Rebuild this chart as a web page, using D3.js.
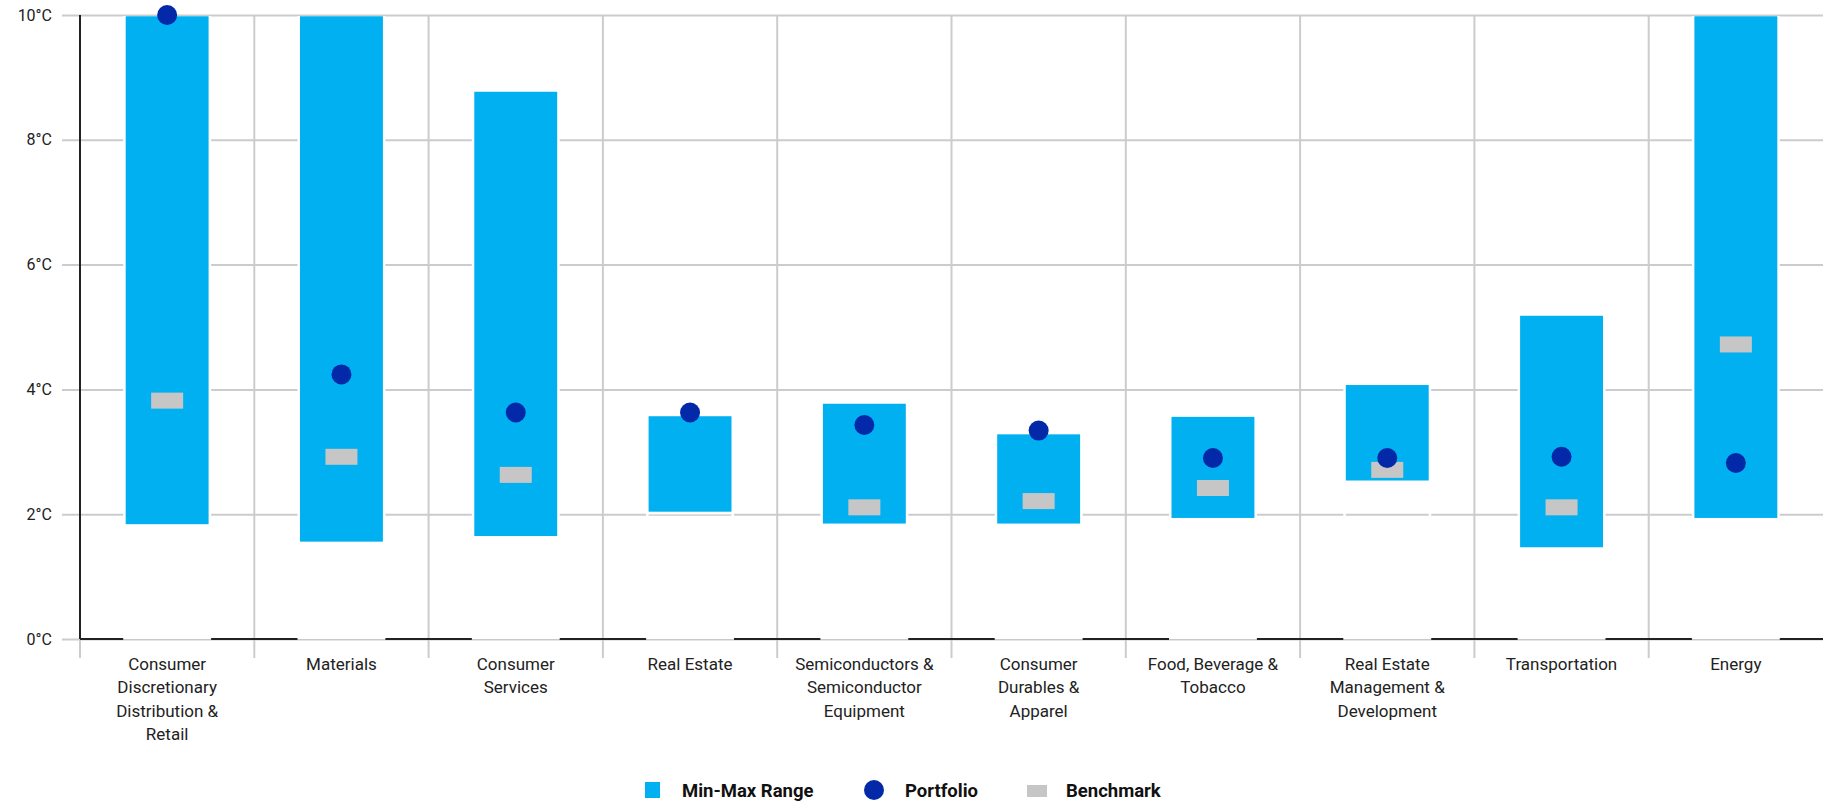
<!DOCTYPE html>
<html>
<head>
<meta charset="utf-8">
<script src="https://cdn.jsdelivr.net/npm/d3@7"></script>
<style>
  body { margin: 0; background: #fff; }
  text { font-family: Roboto, "Noto Sans", sans-serif; }
</style>
</head>
<body>
<script>
// chart data
var categories = [
  "Consumer Discretionary Distribution & Retail",
  "Materials",
  "Consumer Services",
  "Real Estate",
  "Semiconductors & Semiconductor Equipment",
  "Consumer Durables & Apparel",
  "Food, Beverage & Tobacco",
  "Real Estate Management & Development",
  "Transportation",
  "Energy"
];
var tickLabels = [
  ["Consumer", "Discretionary", "Distribution &", "Retail"],
  ["Materials"],
  ["Consumer", "Services"],
  ["Real Estate"],
  ["Semiconductors &", "Semiconductor", "Equipment"],
  ["Consumer", "Durables &", "Apparel"],
  ["Food, Beverage &", "Tobacco"],
  ["Real Estate", "Management &", "Development"],
  ["Transportation"],
  ["Energy"]
];
var rangeMin  = [1.82, 1.54, 1.63, 2.02, 1.83, 1.83, 1.92, 2.52, 1.45, 1.92];
var rangeMax  = [10, 10, 8.79, 3.59, 3.79, 3.30, 3.58, 4.09, 5.20, 10];
var portfolio = [10.0, 4.24, 3.63, 3.63, 3.43, 3.34, 2.90, 2.90, 2.92, 2.82];
var benchmark = [3.82, 2.92, 2.63, null, 2.11, 2.21, 2.42, 2.71, 2.11, 4.72];
var yTicks = [0, 2, 4, 6, 8, 10];

var W = 1823, H = 802;
var margin = {left: 80, right: 1823, top: 15, bottom: 639};

var svg = d3.select("body").append("svg")
  .attr("width", W)
  .attr("height", H);

var x = d3.scaleBand()
  .domain(categories)
  .range([margin.left, margin.right])
  .padding(0);
var y = d3.scaleLinear()
  .domain([0, 10])
  .range([margin.bottom, margin.top]);

var barW = x.bandwidth() * 0.49;

// horizontal grid + y labels
var yAxis = svg.append("g")
  .attr("transform", "translate(" + (margin.left - 18) + ",0)")
  .call(d3.axisLeft(y).tickValues(yTicks).tickSize(-(margin.right - margin.left + 18))
    .tickFormat(function(d) { return d + "°C"; }));
yAxis.select(".domain").remove();
yAxis.selectAll(".tick line").attr("stroke", "#cccccc").attr("stroke-width", 2);
yAxis.selectAll(".tick text")
  .attr("x", -10)
  .attr("fill", "#222")
  .style("font-size", "16px");

// vertical grid lines at band edges
svg.append("g").selectAll("line")
  .data(categories).enter()
  .append("line")
  .attr("x1", function(d) { return x(d); })
  .attr("x2", function(d) { return x(d); })
  .attr("y1", margin.top)
  .attr("y2", margin.bottom + 19)
  .attr("stroke", "#cccccc")
  .attr("stroke-width", 2);

// zero line and y axis line
svg.append("line")
  .attr("x1", margin.left).attr("x2", margin.right)
  .attr("y1", y(0)).attr("y2", y(0))
  .attr("stroke", "#222").attr("stroke-width", 2);
svg.append("line")
  .attr("x1", margin.left).attr("x2", margin.left)
  .attr("y1", margin.top).attr("y2", margin.bottom)
  .attr("stroke", "#222").attr("stroke-width", 2);

svg.append("clipPath").attr("id", "plot")
  .append("rect")
  .attr("x", margin.left).attr("y", margin.top + 1)
  .attr("width", margin.right - margin.left).attr("height", H);

var bars = svg.append("g").attr("clip-path", "url(#plot)");

// invisible base part of the stack (0 to min)
bars.selectAll(".base")
  .data(categories).enter()
  .append("rect")
  .attr("class", "base")
  .attr("x", function(d) { return x(d) + (x.bandwidth() - barW) / 2; })
  .attr("width", barW)
  .attr("y", function(d, i) { return y(rangeMin[i]); })
  .attr("height", function(d, i) { return y(0) - y(rangeMin[i]) - 0.5; })
  .attr("fill", "none")
  .attr("stroke", "#fff")
  .attr("stroke-width", 2.5);

// min-max range
bars.selectAll(".range")
  .data(categories).enter()
  .append("rect")
  .attr("class", "range")
  .attr("x", function(d) { return x(d) + (x.bandwidth() - barW) / 2; })
  .attr("width", barW)
  .attr("y", function(d, i) { return y(rangeMax[i]); })
  .attr("height", function(d, i) { return y(rangeMin[i]) - y(rangeMax[i]); })
  .attr("fill", "#00b0f0")
  .attr("stroke", "#fff")
  .attr("stroke-width", 2.5);

// benchmark
svg.append("g").selectAll("rect")
  .data(categories.filter(function(d, i) { return benchmark[i] != null; })).enter()
  .append("rect")
  .attr("x", function(d) { return x(d) + x.bandwidth() / 2 - 16; })
  .attr("y", function(d) { return y(benchmark[categories.indexOf(d)]) - 8; })
  .attr("width", 32)
  .attr("height", 16)
  .attr("fill", "#c6c6c6");

// portfolio
svg.append("g").selectAll("circle")
  .data(categories).enter()
  .append("circle")
  .attr("cx", function(d) { return x(d) + x.bandwidth() / 2; })
  .attr("cy", function(d, i) { return y(portfolio[i]); })
  .attr("r", 10)
  .attr("fill", "#0329a9");

// category labels
var lab = svg.append("g").selectAll("text")
  .data(categories).enter()
  .append("text")
  .attr("x", function(d) { return x(d) + x.bandwidth() / 2; })
  .attr("y", 670)
  .attr("text-anchor", "middle")
  .attr("fill", "#222")
  .style("font-size", "17px");
lab.each(function(d, i) {
  var t = d3.select(this);
  tickLabels[i].forEach(function(line, j) {
    t.append("tspan")
      .attr("x", x(d) + x.bandwidth() / 2)
      .attr("dy", j === 0 ? 0 : 23.3)
      .text(line);
  });
});

// legend
var lg = svg.append("g").attr("transform", "translate(0,790)");
lg.append("rect").attr("x", 645).attr("y", -8).attr("width", 15).attr("height", 16).attr("fill", "#00b0f0");
lg.append("text").attr("x", 682).attr("y", 6.5).text("Min-Max Range");
lg.append("circle").attr("cx", 874).attr("cy", 0).attr("r", 10).attr("fill", "#0329a9");
lg.append("text").attr("x", 905).attr("y", 6.5).text("Portfolio");
lg.append("rect").attr("x", 1027).attr("y", -5).attr("width", 20).attr("height", 12).attr("fill", "#c6c6c6");
lg.append("text").attr("x", 1066).attr("y", 6.5).text("Benchmark");
lg.selectAll("text")
  .attr("fill", "#111")
  .style("font-size", "18.5px")
  .style("font-weight", "bold");
</script>
</body>
</html>
